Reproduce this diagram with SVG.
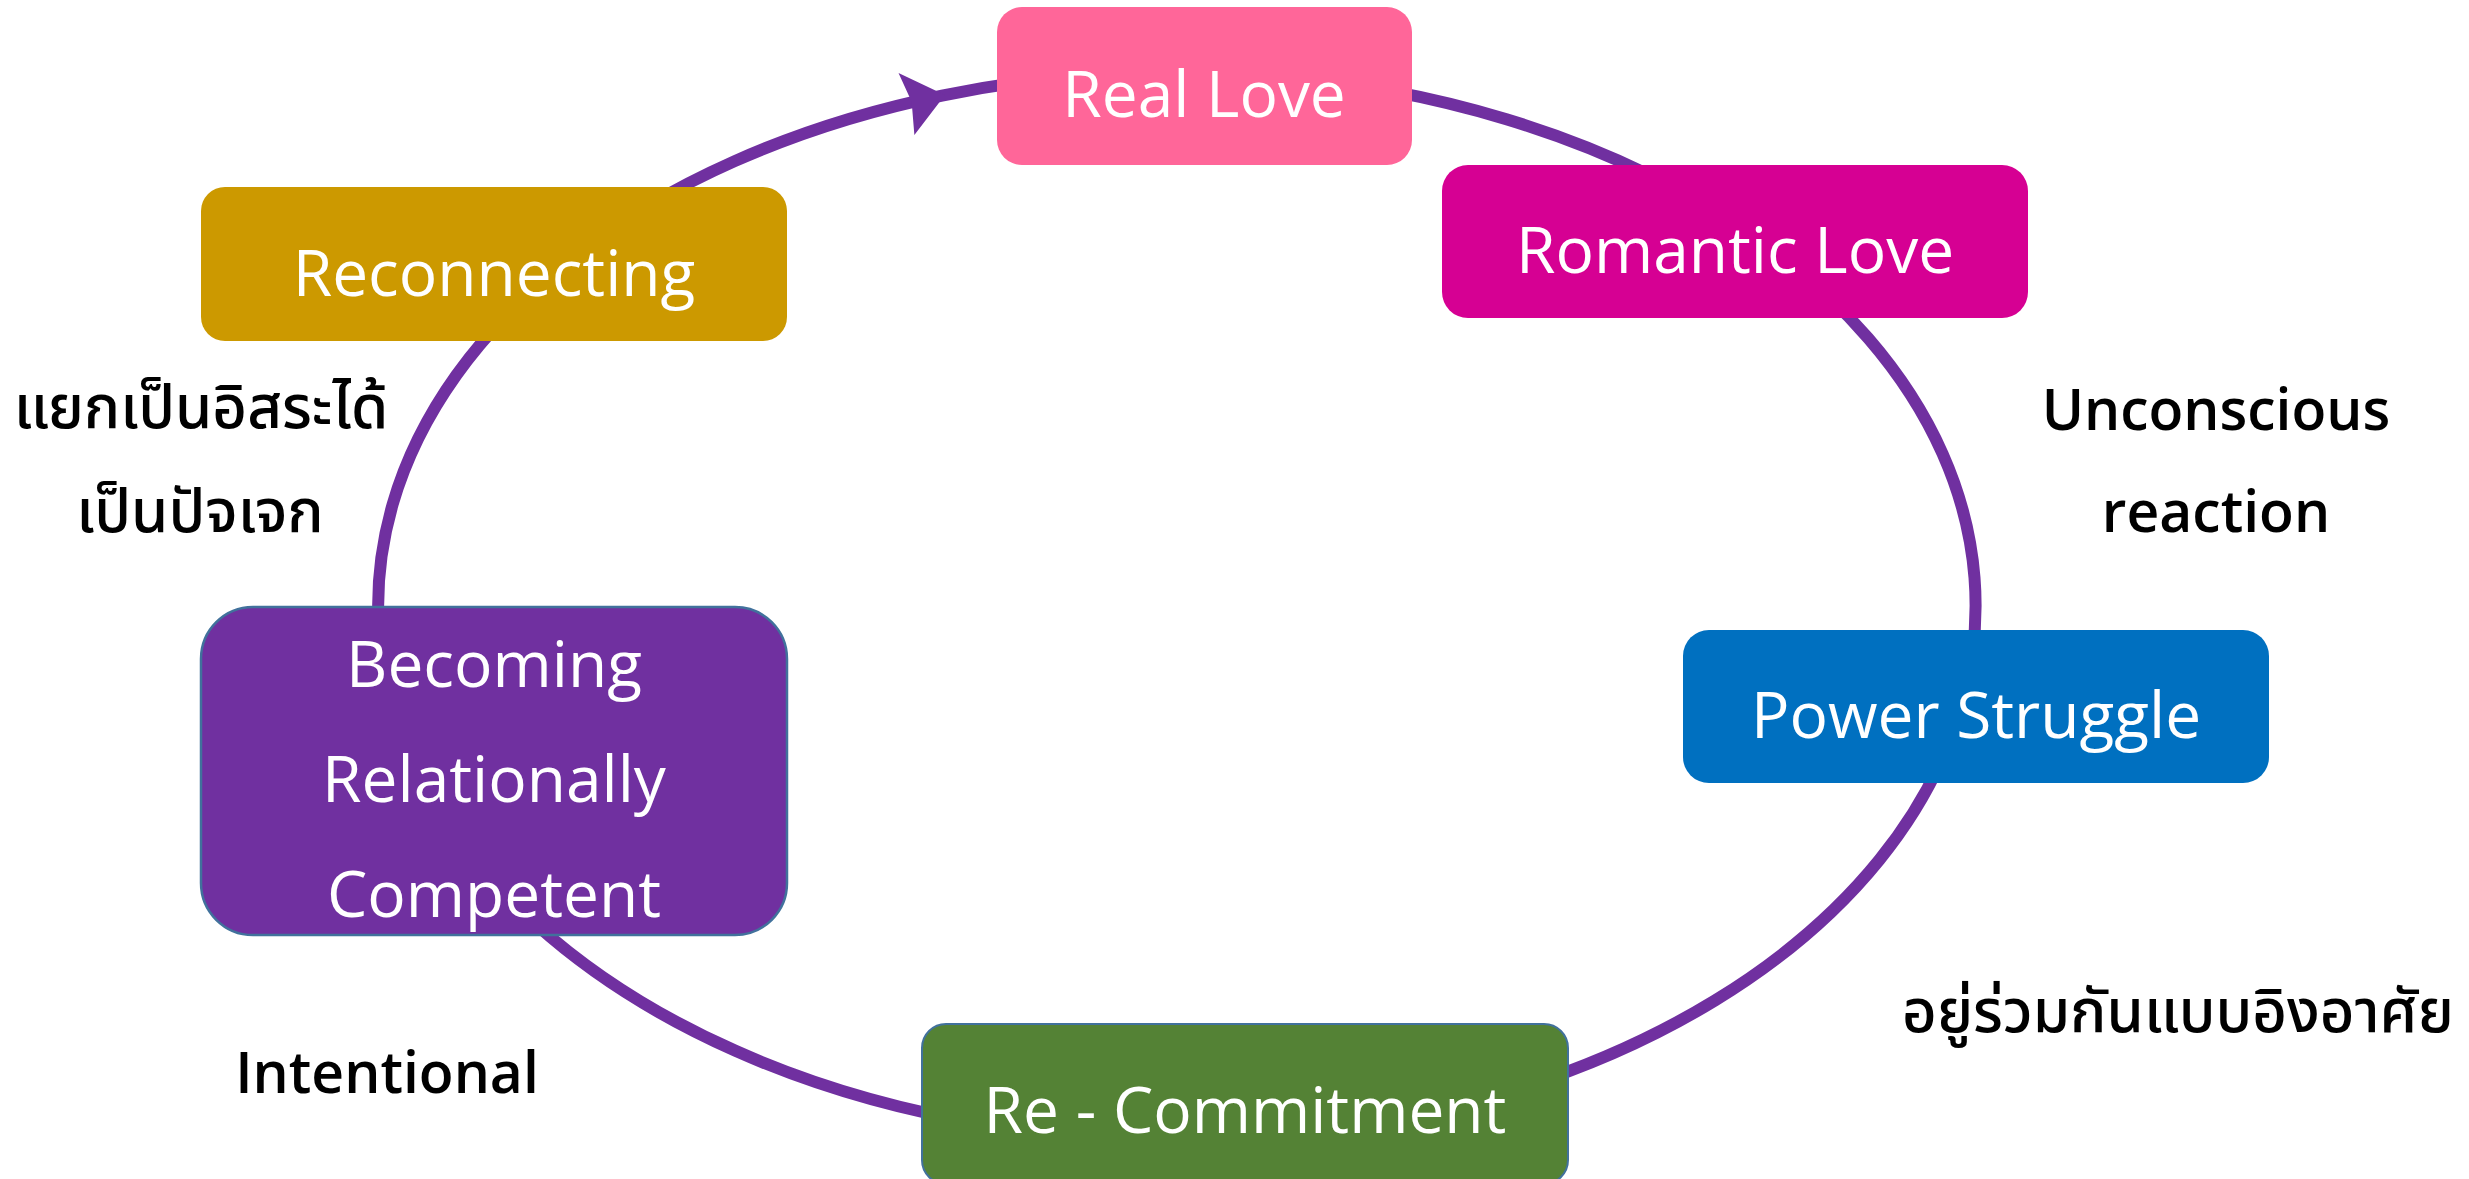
<svg xmlns="http://www.w3.org/2000/svg" width="2469" height="1179" viewBox="0 0 2469 1179">
<defs>
<style>
.node text{font-family:"Open Sans","Noto Sans","DejaVu Sans",sans-serif;font-size:64px;fill:#ffffff;text-anchor:middle}
.lbl{font-family:"Open Sans","Noto Sans","DejaVu Sans",sans-serif;font-size:57px;font-weight:600;fill:#000000;text-anchor:middle}
.thai{font-family:"Noto Sans Thai","Leelawadee UI","Tahoma","Noto Sans","DejaVu Sans",sans-serif;font-size:60px;font-weight:500;fill:#000000;text-anchor:middle}
.conn{fill:none;stroke:#7030A0;stroke-width:12}
</style>
<marker id="arrow" markerUnits="userSpaceOnUse" orient="auto" markerWidth="80" markerHeight="80" refX="0" refY="0" viewBox="-40 -40 80 80" overflow="visible">
<path d="M3,0 L-38,-31 L-31,0 L-35,33 Z" fill="#7030A0"/>
</marker>
</defs>
<rect width="2469" height="1179" fill="#ffffff"/>
<g id="connectors">
<path class="conn" d="M563,264 A799,534 0 0 1 942,95.6 A799,534 0 0 1 1204,72" marker-mid="url(#arrow)"/>
<path class="conn" d="M1204,72 A799,534 0 0 1 1759,240"/>
<path class="conn" d="M1759,240 A799,534 0 0 1 1963,700"/>
<path class="conn" d="M1963,700 A799,534 0 0 1 1245,1138"/>
<path class="conn" d="M1245,1138 A799,534 0 0 1 417,770"/>
<path class="conn" d="M417,770 A799,534 0 0 1 563,264"/>
</g>
<g id="real-love" class="node">
<rect x="997" y="7" width="415" height="158" rx="25" fill="#FF6699"/>
<text x="1204" y="117">Real Love</text>
</g>
<g id="romantic-love" class="node">
<rect x="1442" y="165" width="586" height="153" rx="26" fill="#D60093"/>
<text x="1735" y="273">Romantic Love</text>
</g>
<g id="power-struggle" class="node">
<rect x="1683" y="630" width="586" height="153" rx="26" fill="#0070C0"/>
<text x="1976" y="738">Power Struggle</text>
</g>
<g id="re-commitment" class="node">
<rect x="922" y="1024" width="646" height="160" rx="24" fill="#548235" stroke="#41719C" stroke-width="2"/>
<text x="1245" y="1133">Re - Commitment</text>
</g>
<g id="becoming" class="node">
<rect x="201" y="607" width="586" height="328" rx="52" fill="#7030A0" stroke="#41719C" stroke-width="2.5"/>
<text x="494" y="687">Becoming</text>
<text x="494" y="802">Relationally</text>
<text x="494" y="917">Competent</text>
</g>
<g id="reconnecting" class="node">
<rect x="201" y="187" width="586" height="154" rx="24" fill="#CC9900"/>
<text x="494" y="296">Reconnecting</text>
</g>
<g id="labels">
<text class="lbl" x="2216" y="430">Unconscious</text>
<text class="lbl" x="2216" y="532">reaction</text>
<text class="lbl" x="387" y="1093">Intentional</text>
<text class="thai" x="201" y="428">แยกเป็นอิสระได้</text>
<text class="thai" x="200" y="532">เป็นปัจเจก</text>
<text class="thai" x="2178" y="1032">อยู่ร่วมกันแบบอิงอาศัย</text>
</g>
</svg>
